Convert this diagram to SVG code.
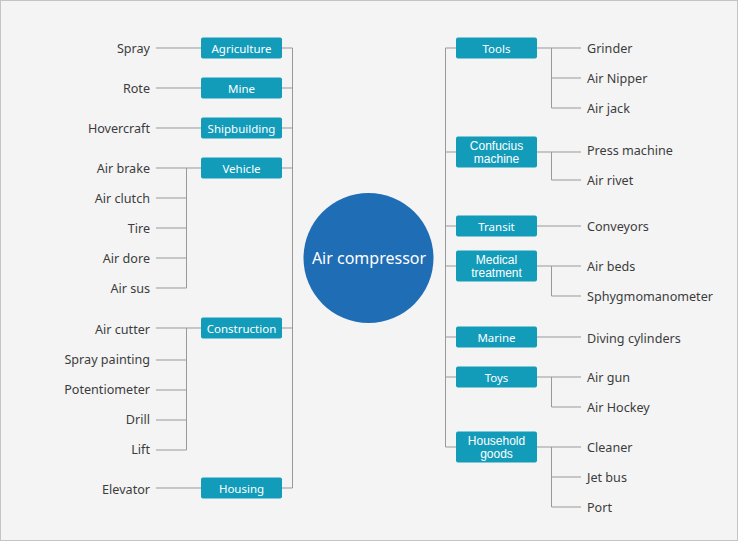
<svg xmlns="http://www.w3.org/2000/svg" width="739" height="542" viewBox="0 0 739 542">
<style>
.bg{fill:#f4f4f4;stroke:#c4c4c4;stroke-width:1}
.box{fill:#139bba;}
.bt{font-family:"Noto Sans","Open Sans",sans-serif;font-size:11.5px;fill:#fff;text-anchor:middle;dominant-baseline:central}
.bt2{font-family:"Liberation Sans",Arial,sans-serif;font-size:12px;fill:#fff;text-anchor:middle;dominant-baseline:central}
.lt{font-family:"Noto Sans","Open Sans",sans-serif;font-size:12.6px;fill:#3c3c3c;dominant-baseline:central}
.l{text-anchor:end}
.c line,.c path{stroke:#999;stroke-width:1;fill:none}
</style>
<rect class="bg" x="0.5" y="0.5" width="737" height="540"/>
<g id="connectors" class="c">
<path d="M282 48H292.5V488H282M282 88H292.5M282 128H292.5M282 168H292.5M282 328H292.5"/>
<path d="M156 48H201M156 88H201M156 128H201M156 168H201M156 328H201M156 488H201"/>
<path d="M186.5 168V288M156 198H186.5M156 228H186.5M156 258H186.5M156 288H186.5"/>
<path d="M186.5 328V450M156 360H186.5M156 390H186.5M156 420H186.5M156 450H186.5"/>
<path d="M456 48H445.5V447H456M445.5 152H456M445.5 226H456M445.5 266H456M445.5 337H456M445.5 377H456"/>
<path d="M537 48H581M551.5 48V108H581M551.5 78H581"/>
<path d="M537 152H581M551.5 152V180H581"/>
<path d="M537 226H581"/>
<path d="M537 266H581M551.5 266V296H581"/>
<path d="M537 337H581"/>
<path d="M537 377H581M551.5 377V407H581"/>
<path d="M537 447H581M551.5 447V507H581M551.5 477H581"/>
</g>
<g id="center"><circle cx="368.5" cy="258" r="65" fill="#1f6db5"/><text x="369" y="258" font-family="Noto Sans, Open Sans, sans-serif" font-size="16" fill="#fff" text-anchor="middle" dominant-baseline="central">Air compressor</text></g>
<g id="agriculture"><rect class="box" x="201" y="37.5" width="81" height="21" rx="2"/><text class="bt" x="241.5" y="48">Agriculture</text></g>
<g id="mine"><rect class="box" x="201" y="77.5" width="81" height="21" rx="2"/><text class="bt" x="241.5" y="88">Mine</text></g>
<g id="shipbuilding"><rect class="box" x="201" y="117.5" width="81" height="21" rx="2"/><text class="bt" x="241.5" y="128">Shipbuilding</text></g>
<g id="vehicle"><rect class="box" x="201" y="157.5" width="81" height="21" rx="2"/><text class="bt" x="241.5" y="168">Vehicle</text></g>
<g id="construction"><rect class="box" x="201" y="317.5" width="81" height="21" rx="2"/><text class="bt" x="241.5" y="328">Construction</text></g>
<g id="housing"><rect class="box" x="201" y="477.5" width="81" height="21" rx="2"/><text class="bt" x="241.5" y="488">Housing</text></g>
<g id="tools"><rect class="box" x="456" y="37.5" width="81" height="21" rx="2"/><text class="bt" x="496.5" y="48">Tools</text></g>
<g id="confucius"><rect class="box" x="456" y="136.5" width="81" height="31" rx="2"/><text class="bt2" x="496.5" y="145.5">Confucius</text><text class="bt2" x="496.5" y="158.8">machine</text></g>
<g id="transit"><rect class="box" x="456" y="215.5" width="81" height="21" rx="2"/><text class="bt" x="496.5" y="226">Transit</text></g>
<g id="medical"><rect class="box" x="456" y="250.5" width="81" height="31" rx="2"/><text class="bt2" x="496.5" y="259.5">Medical</text><text class="bt2" x="496.5" y="272.8">treatment</text></g>
<g id="marine"><rect class="box" x="456" y="326.5" width="81" height="21" rx="2"/><text class="bt" x="496.5" y="337">Marine</text></g>
<g id="toys"><rect class="box" x="456" y="366.5" width="81" height="21" rx="2"/><text class="bt" x="496.5" y="377">Toys</text></g>
<g id="household"><rect class="box" x="456" y="431.5" width="81" height="31" rx="2"/><text class="bt2" x="496.5" y="440.5">Household</text><text class="bt2" x="496.5" y="453.8">goods</text></g>
<g id="left-leaves">
<text class="lt l" x="150" y="48">Spray</text>
<text class="lt l" x="150" y="88">Rote</text>
<text class="lt l" x="150" y="128">Hovercraft</text>
<text class="lt l" x="150" y="168">Air brake</text>
<text class="lt l" x="150" y="198">Air clutch</text>
<text class="lt l" x="150" y="228">Tire</text>
<text class="lt l" x="150" y="258">Air dore</text>
<text class="lt l" x="150" y="288">Air sus</text>
<text class="lt l" x="150" y="329">Air cutter</text>
<text class="lt l" x="150" y="359">Spray painting</text>
<text class="lt l" x="150" y="389">Potentiometer</text>
<text class="lt l" x="150" y="419">Drill</text>
<text class="lt l" x="150" y="449">Lift</text>
<text class="lt l" x="150" y="489">Elevator</text>
</g>
<g id="right-leaves">
<text class="lt" x="587" y="48">Grinder</text>
<text class="lt" x="587" y="78">Air Nipper</text>
<text class="lt" x="587" y="108">Air jack</text>
<text class="lt" x="587" y="150">Press machine</text>
<text class="lt" x="587" y="180">Air rivet</text>
<text class="lt" x="587" y="226">Conveyors</text>
<text class="lt" x="587" y="266">Air beds</text>
<text class="lt" x="587" y="296">Sphygmomanometer</text>
<text class="lt" x="587" y="338">Diving cylinders</text>
<text class="lt" x="587" y="377">Air gun</text>
<text class="lt" x="587" y="407">Air Hockey</text>
<text class="lt" x="587" y="447">Cleaner</text>
<text class="lt" x="587" y="477">Jet bus</text>
<text class="lt" x="587" y="507">Port</text>
</g>
</svg>
